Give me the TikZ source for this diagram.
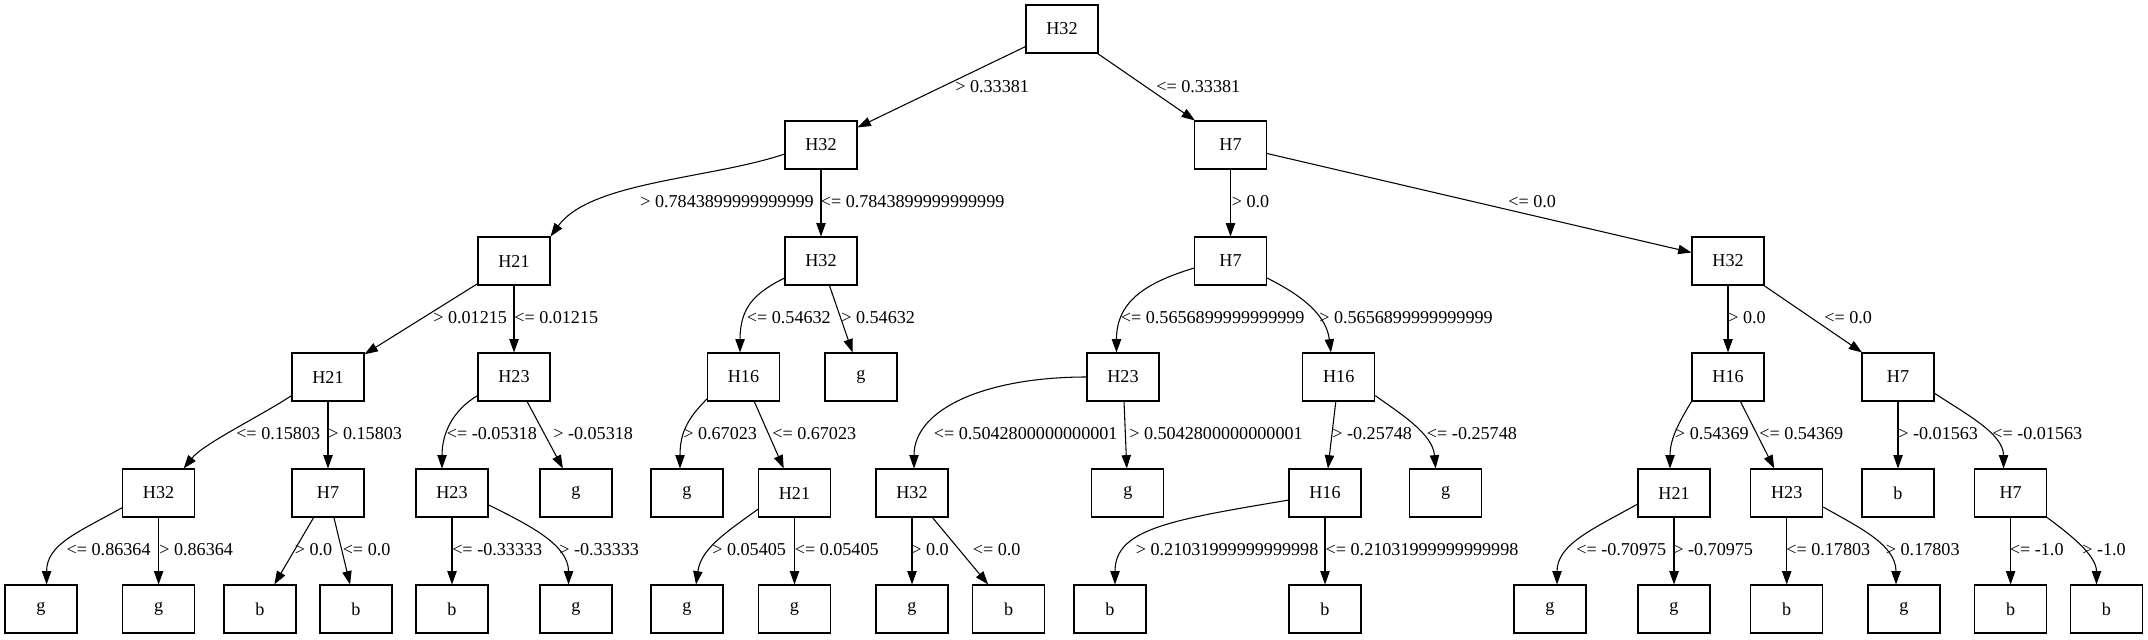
\documentclass[tikz,border=0pt]{standalone}
\usepackage{fontspec}
\setmainfont{Liberation Serif}
\usetikzlibrary{arrows.meta}
\begin{document}
\begin{tikzpicture}[x=0.75pt,y=-0.75pt,
  box/.style={draw, line width=0.8pt, minimum width=54pt, minimum height=36pt, inner sep=0pt, font=\fontsize{13.6}{16}\selectfont},
  lbl/.style={anchor=west, inner sep=0pt, font=\fontsize{13.6}{16}\selectfont},
  edge/.style={draw, line width=0.8pt, -{Triangle[length=10pt,width=7pt]}}]
\useasboundingbox (0,0) rectangle (2148,639);
% level 0
\node[box] (r) at (1062,29) {H32};
% level 1
\node[box] (a) at (821,145) {H32};
\node[box] (b) at (1230.5,145) {H7};
% level 2
\node[box] (c1) at (514,261) {H21};
\node[box] (c2) at (821,261) {H32};
\node[box] (c3) at (1230.5,261) {H7};
\node[box] (c4) at (1728,261) {H32};
% level 3
\node[box] (d1) at (328,377) {H21};
\node[box] (d2) at (514,377) {H23};
\node[box] (d3) at (743.5,377) {H16};
\node[box] (d4) at (861,377) {g};
\node[box] (d5) at (1123,377) {H23};
\node[box] (d6) at (1338.7,377) {H16};
\node[box] (d7) at (1728,377) {H16};
\node[box] (d8) at (1898,377) {H7};
% level 4
\node[box] (e1) at (158.6,493) {H32};
\node[box] (e2) at (328,493) {H7};
\node[box] (e3) at (452,493) {H23};
\node[box] (e4) at (576,493) {g};
\node[box] (e5) at (687,493) {g};
\node[box] (e6) at (794.5,493) {H21};
\node[box] (e7) at (912,493) {H32};
\node[box] (e8) at (1127.8,493) {g};
\node[box] (e9) at (1325,493) {H16};
\node[box] (e10) at (1445.6,493) {g};
\node[box] (e11) at (1674,493) {H21};
\node[box] (e12) at (1786.7,493) {H23};
\node[box] (e13) at (1898,493) {b};
\node[box] (e14) at (2010.6,493) {H7};
% level 5
\node[box] (f1) at (41,609) {g};
\node[box] (f2) at (158.6,609) {g};
\node[box] (f3) at (260,609) {b};
\node[box] (f4) at (356,609) {b};
\node[box] (f5) at (452,609) {b};
\node[box] (f6) at (576,609) {g};
\node[box] (f7) at (687,609) {g};
\node[box] (f8) at (794.5,609) {g};
\node[box] (f9) at (912,609) {g};
\node[box] (f10) at (1008.6,609) {b};
\node[box] (f11) at (1110,609) {b};
\node[box] (f12) at (1325,609) {b};
\node[box] (f13) at (1550,609) {g};
\node[box] (f14) at (1674,609) {g};
\node[box] (f15) at (1786.7,609) {b};
\node[box] (f16) at (1904,609) {g};
\node[box] (f17) at (2010.6,609) {b};
\node[box] (f18) at (2106.5,609) {b};
% edges level 0-1
\draw[edge] (r) -- (a);
\draw[edge] (r) -- (b);
% level 1-2
\draw[edge] (a.194) .. controls +(-75,25) and +(40,-55) .. (c1.north east);
\draw[edge] (a) -- (c2);
\draw[edge] (b) -- (c3);
\draw[edge] (b) -- (c4);
% level 2-3
\draw[edge] (c1) -- (d1);
\draw[edge] (c1) -- (d2);
\draw[edge] (c2.205) .. controls +(-30,15) and +(0,-45) .. ([xshift=-2.6pt]d3.north);
\draw[edge] (c2) -- (d4);
\draw[edge] (c3.191) .. controls +(-50,15) and +(0,-50) .. ([xshift=-4.9pt]d5.north);
\draw[edge] (c3.335) .. controls +(30,15) and +(-5,-40) .. ([xshift=-5.8pt]d6.north);
\draw[edge] (c4) -- (d7);
\draw[edge] (c4) -- (d8);
% level 3-4
\draw[edge] (d1.207) .. controls +(-30,20) and +(20,-25) .. ([xshift=18.8pt]e1.north);
\draw[edge] (d1) -- (e2);
\draw[edge] (d2.207) .. controls +(-25,15) and +(0,-35) .. ([xshift=-7.5pt]e3.north);
\draw[edge] (d2) -- (e4);
\draw[edge] (d3.211) .. controls +(-20,20) and +(0,-35) .. ([xshift=-5.25pt]e5.north);
\draw[edge] (d3) -- (e6);
\draw[edge] (d5.west) .. controls +(-100,0) and +(0,-60) .. ([xshift=1.5pt]e7.north);
\draw[edge] (d5) -- (e8);
\draw[edge] (d6) -- (e9);
\draw[edge] (d6.333) .. controls +(25,18) and +(-3,-35) .. ([xshift=-7.5pt]e10.north);
\draw[edge] (d7.south west) .. controls +(-12,20) and +(0,-30) .. ([xshift=-3pt]e11.north);
\draw[edge] (d7) -- (e12);
\draw[edge] (d8) -- (e13);
\draw[edge] (d8.336) .. controls +(30,20) and +(0,-35) .. ([xshift=-5.3pt]e14.north);
% level 4-5
\draw[edge] (e1.202) .. controls +(-45,25) and +(0,-40) .. ([xshift=4.2pt]f1.north);
\draw[edge] (e1) -- (f2);
\draw[edge] (e2) -- (f3);
\draw[edge] (e2) -- (f4);
\draw[edge] (e3) -- (f5);
\draw[edge] (e3.342) .. controls +(40,20) and +(0,-40) .. ([xshift=-5.6pt]f6.north);
\draw[edge] (e6.204) .. controls +(-35,25) and +(5,-35) .. ([xshift=6.75pt]f7.north);
\draw[edge] (e6) -- (f8);
\draw[edge] (e7) -- (f9);
\draw[edge] (e7) -- (f10);
\draw[edge] (e9.191) .. controls +(-120,20) and +(0,-55) .. ([xshift=3.75pt]f11.north);
\draw[edge] (e9) -- (f12);
\draw[edge] (e11.197) .. controls +(-45,25) and +(0,-40) .. ([xshift=5.25pt]f13.north);
\draw[edge] (e11) -- (f14);
\draw[edge] (e12) -- (f15);
\draw[edge] (e12.339) .. controls +(35,20) and +(0,-40) .. ([xshift=-6pt]f16.north);
\draw[edge] (e14) -- (f17);
\draw[edge] (e14.south east) .. controls +(20,15) and +(0,-30) .. ([xshift=-7.5pt]f18.north);
% labels level 0-1
\node[lbl] (l1) at (955,87) {> 0.33381};
\node[lbl] (l2) at (1156,87) {<= 0.33381};
% labels level 1-2
\node[lbl] (l3) at (640,202) {> 0.7843899999999999};
\node[lbl] (l4) at (820.5,202) {<= 0.7843899999999999};
\node[lbl] (l5) at (1231.5,202) {> 0.0};
\node[lbl] (l6) at (1508,202) {<= 0.0};
% labels level 2-3
\node[lbl] (l7) at (433,318) {> 0.01215};
\node[lbl] (l8) at (514,318) {<= 0.01215};
\node[lbl] (l9) at (746.6,318) {<= 0.54632};
\node[lbl] (l10) at (841,318) {> 0.54632};
\node[lbl] (l11) at (1120.6,318) {<= 0.5656899999999999};
\node[lbl] (l12) at (1319,318) {> 0.5656899999999999};
\node[lbl] (l13) at (1728,318) {> 0.0};
\node[lbl] (l14) at (1824,318) {<= 0.0};
% labels level 3-4
\node[lbl] (l15) at (236,434) {<= 0.15803};
\node[lbl] (l16) at (328,434) {> 0.15803};
\node[lbl] (l17) at (446.6,434) {<= -0.05318};
\node[lbl] (l18) at (553,434) {> -0.05318};
\node[lbl] (l19) at (683,434) {> 0.67023};
\node[lbl] (l20) at (772,434) {<= 0.67023};
\node[lbl] (l21) at (933.6,434) {<= 0.5042800000000001};
\node[lbl] (l22) at (1129,434) {> 0.5042800000000001};
\node[lbl] (l23) at (1332,434) {> -0.25748};
\node[lbl] (l24) at (1426.7,434) {<= -0.25748};
\node[lbl] (l25) at (1674.7,434) {> 0.54369};
\node[lbl] (l26) at (1759,434) {<= 0.54369};
\node[lbl] (l27) at (1898,434) {> -0.01563};
\node[lbl] (l28) at (1992,434) {<= -0.01563};
% labels level 4-5
\node[lbl] (l29) at (66.4,550) {<= 0.86364};
\node[lbl] (l30) at (159,550) {> 0.86364};
\node[lbl] (l31) at (294.5,550) {> 0.0};
\node[lbl] (l32) at (342.5,550) {<= 0.0};
\node[lbl] (l33) at (452,550) {<= -0.33333};
\node[lbl] (l34) at (559,550) {> -0.33333};
\node[lbl] (l35) at (712,550) {> 0.05405};
\node[lbl] (l36) at (794.5,550) {<= 0.05405};
\node[lbl] (l37) at (911,550) {> 0.0};
\node[lbl] (l38) at (972.6,550) {<= 0.0};
\node[lbl] (l39) at (1135.6,550) {> 0.21031999999999998};
\node[lbl] (l40) at (1325.4,550) {<= 0.21031999999999998};
\node[lbl] (l41) at (1576,550) {<= -0.70975};
\node[lbl] (l42) at (1673,550) {> -0.70975};
\node[lbl] (l43) at (1786,550) {<= 0.17803};
\node[lbl] (l44) at (1885.6,550) {> 0.17803};
\node[lbl] (l45) at (2009.6,550) {<= -1.0};
\node[lbl] (l46) at (2082,550) {> -1.0};
\end{tikzpicture}
\end{document}
